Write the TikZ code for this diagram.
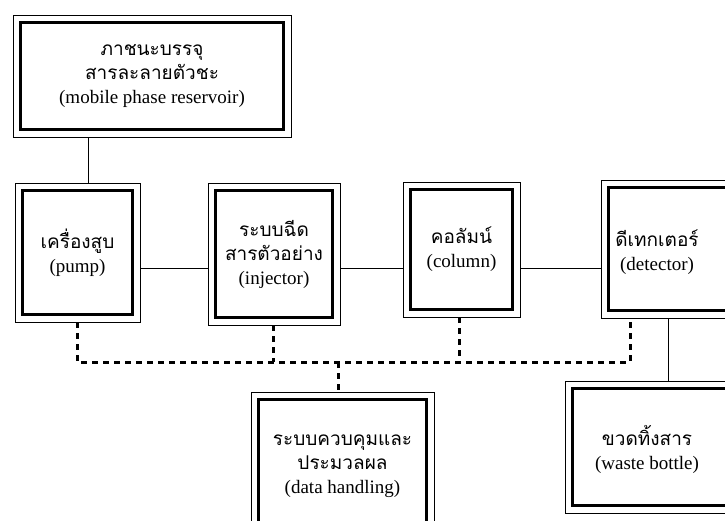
\documentclass[tikz,border=0pt]{standalone}
\usepackage{fontspec}
\setmainfont{Liberation Serif}
\newfontfamily\thai[Script=Thai]{Loma}
\begin{document}
\begin{tikzpicture}[x=1pt,y=-1pt,
  tbox/.style={draw, line width=0.9pt, inner sep=0pt,
    path picture={\draw[line width=3.8pt]
      ([shift={(7.5pt,-7.5pt)}]path picture bounding box.north west) rectangle
      ([shift={(-7.5pt,7.5pt)}]path picture bounding box.south east);}},
  lbl/.style={align=center, font=\fontsize{19}{24}\selectfont},
  pipe/.style={line width=0.9pt},
  signal/.style={line width=3pt, dash pattern=on 6pt off 5pt}]

\clip (0,0) rectangle (725,521);

% instrument blocks
\node[tbox, lbl, minimum width=278pt, minimum height=122pt] (res) at (152,76)
  {{\thai ภาชนะบรรจุ}\\{\thai สารละลายตัวชะ}\\(mobile phase reservoir)};
\node[tbox, lbl, minimum width=125pt, minimum height=139pt] (pump) at (77.5,252.5)
  {{\thai เครื่องสูบ}\\(pump)};
\node[tbox, lbl, minimum width=132pt, minimum height=142pt] (inj) at (274,254)
  {{\thai ระบบฉีด}\\{\thai สารตัวอย่าง}\\(injector)};
\node[tbox, lbl, minimum width=117pt, minimum height=135pt] (col) at (461.5,249.5)
  {{\thai คอลัมน์}\\(column)};
\node[tbox, minimum width=144pt, minimum height=138pt] (det) at (673,249) {};
\node[lbl] (dettext) at (657,252) {{\thai ดีเทกเตอร์}\\(detector)};
\node[tbox, lbl, minimum width=183pt, minimum height=148pt] (data) at (342.5,466)
  {{\thai ระบบควบคุมและ}\\{\thai ประมวลผล}\\(data handling)};
\node[tbox, minimum width=175pt, minimum height=132pt] (waste) at (652.5,447) {};
\node[lbl] (wastetext) at (647,449) {{\thai ขวดทิ้งสาร}\\(waste bottle)};

% liquid flow path
\coordinate (feed) at (88,0);
\coordinate (flow) at (0,268);
\coordinate (drain) at (668,0);
\draw[pipe] (res.south -| feed) -- (pump.north -| feed);
\draw[pipe] (pump.east |- flow) -- (inj.west |- flow);
\draw[pipe] (inj.east |- flow) -- (col.west |- flow);
\draw[pipe] (col.east |- flow) -- (det.west |- flow);
\draw[pipe] (det.south -| drain) -- (waste.north -| drain);

% signal bus to the data system
\coordinate (busL) at (77,362);
\coordinate (busR) at (630,362);
\coordinate (tapI) at (273,362);
\coordinate (tapC) at (459,362);
\coordinate (tapD) at (338,362);
\draw[signal] (pump.south -| busL) -- (busL) -- (busR) -- (det.south -| busR);
\draw[signal] (inj.south -| tapI) -- (tapI);
\draw[signal] (col.south -| tapC) -- (tapC);
\draw[signal] (tapD) -- (data.north -| tapD);
\end{tikzpicture}
\end{document}
